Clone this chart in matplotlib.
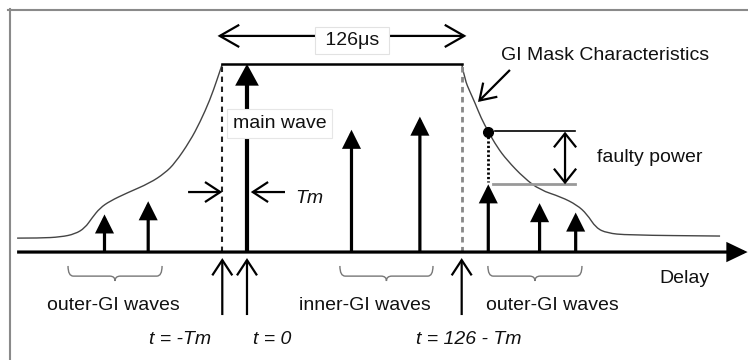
import matplotlib
matplotlib.use("Agg")
import matplotlib.pyplot as plt
from matplotlib.path import Path
from matplotlib.patches import PathPatch
from matplotlib.lines import Line2D

plt.rcParams['font.family'] = ['Liberation Sans', 'DejaVu Sans']

# Guard interval and main-wave offset (µs)
GI = 126
TM = 13

# Received waves: delay (µs) and relative power
wave_delay = [-75, -52, 0, 55, 91, 127, 154, 173]
wave_power = [0.20, 0.27, 1.0, 0.65, 0.72, 0.36, 0.26, 0.21]
MAIN = 2
FAULTY = 5

# GI mask characteristic: rising and falling flanks
mask_left_delay = [-121, -109, -98, -90.5, -85.3, -81.6, -77.4, -72.1, -63.2,
                   -51.1, -43.2, -37.9, -30.0, -24.7, -19.5, -15.8, -13]
mask_left_level = [0.074, 0.074, 0.080, 0.096, 0.128, 0.181, 0.234, 0.271, 0.314,
                   0.367, 0.420, 0.473, 0.590, 0.691, 0.809, 0.915, 1.0]
mask_right_delay = [113, 114.7, 117.4, 120.0, 123.2, 127, 131.6, 136.8, 145.8,
                    154.2, 165.3, 173.7, 178.9, 183.7, 189.5, 200.0, 249]
mask_right_level = [1.0, 0.915, 0.851, 0.793, 0.713, 0.64, 0.559, 0.489, 0.394,
                    0.330, 0.293, 0.250, 0.202, 0.128, 0.101, 0.090, 0.085]
MASK_AT_FAULTY = 0.64

# Wave groups marked with braces below the delay axis
brace_spans = [(-94.2, -44.7), (48.9, 97.9), (126.8, 176.3)]
brace_labels = ["outer-GI waves", "inner-GI waves", "outer-GI waves"]
brace_label_x = [-70.3, 62.1, 160.8]

marker_delay = [-TM, 0, GI - TM]
marker_labels = ["t = -Tm", "t = 0", "t = 126 - Tm"]
marker_label_x = [-35.3, 13.2, 116.8]

TXT = '#111111'
FS = 14

fig = plt.figure(figsize=(7.48, 3.60), dpi=100)
ax = fig.add_axes([0, 0, 1, 1])
ax.set_xlim(-130, 263.7)
ax.set_ylim(-0.574, 1.340)
ax.axis('off')

# frame (top and left edges)
fig.add_artist(Line2D([8 / 748, 1], [1 - 9.5 / 360] * 2, transform=fig.transFigure,
                      color='#8a8a8a', lw=1.5))
fig.add_artist(Line2D([9.5 / 748] * 2, [0, 1 - 9 / 360], transform=fig.transFigure,
                      color='#8a8a8a', lw=1.5))


def arrow(tip, tail, style, ms, lw, color='black', z=3):
    ax.annotate('', xy=tip, xytext=tail, zorder=z,
                arrowprops=dict(arrowstyle=style, mutation_scale=ms, lw=lw,
                                color=color, shrinkA=0, shrinkB=0,
                                joinstyle='miter', capstyle='butt'))


def smooth_curve(xs, ys, **kw):
    """Draw a smooth quadratic path guided by the given points."""
    pts = list(zip(xs, ys))
    verts = [pts[0]]
    codes = [Path.MOVETO]
    for i in range(1, len(pts) - 1):
        mid = ((pts[i][0] + pts[i + 1][0]) / 2, (pts[i][1] + pts[i + 1][1]) / 2)
        verts += [pts[i], mid]
        codes += [Path.CURVE3, Path.CURVE3]
    verts.append(pts[-1])
    codes.append(Path.LINETO)
    ax.add_patch(PathPatch(Path(verts, codes), fc='none', **kw))


# delay axis
arrow((263.5, 0), (-121, 0), '-|>,head_length=1.15,head_width=0.55', 10, 2.3)

# GI mask
smooth_curve(mask_left_delay, mask_left_level, ec='#444444', lw=1.0, zorder=2)
smooth_curve(mask_right_delay, mask_right_level, ec='#444444', lw=1.0, zorder=2)
ax.plot([-TM, GI - TM], [1, 1], color='black', lw=1.8, zorder=2)

# guard interval boundaries
ax.plot([-TM, -TM], [0, 1], color='#222222', lw=1.5, ls=(0, (2.6, 2.2)), zorder=2)
ax.plot([GI - TM, GI - TM], [0, 1], color='#888888', lw=2.0, ls=(0, (2.0, 1.6)), zorder=2)

# received waves
for i, (d, p) in enumerate(zip(wave_delay, wave_power)):
    if i == MAIN:
        arrow((d, p), (d, 0), '-|>,head_length=1.1,head_width=0.6', 10, 3.0)
    else:
        arrow((d, p), (d, 0), '-|>,head_length=1.0,head_width=0.5', 10, 2.3)

# GI length
y126 = 1.149
arrow((GI - TM + 2.5, y126), (-TM - 2.5, y126), '<->,head_length=0.7,head_width=0.4', 20, 1.6)
ax.text(55.3, 1.101, ' 126\u03bcs ', fontsize=FS, color=TXT, ha='center', va='baseline',
        zorder=5, bbox=dict(boxstyle='square,pad=0.25', fc='white', ec='#e2e2e2', lw=0.8))

# main wave label
ax.text(-7.4, 0.660, 'main wave', fontsize=FS, color=TXT, ha='left', va='baseline',
        zorder=5, bbox=dict(boxstyle='square,pad=0.3', fc='white', ec='#e6e6e6', lw=0.8))

# Tm offset
yt = 0.319
arrow((-TM, yt), (-31, yt), '->,head_length=0.55,head_width=0.36', 20, 1.6)
arrow((2, yt), (20, yt), '->,head_length=0.55,head_width=0.36', 20, 1.6)
ax.text(32.6, 0.261, 'Tm', fontsize=FS, style='italic', color=TXT, ha='center', va='baseline')

# time markers below the axis
for d, lab, lx in zip(marker_delay, marker_labels, marker_label_x):
    arrow((d, -0.032), (d, -0.335), '->,head_length=0.55,head_width=0.36', 20, 1.6)
    ax.text(lx, -0.489, lab, fontsize=FS, style='italic', color=TXT, ha='center',
            va='baseline')


# braces
def brace(x0, x1):
    yt_, ym, yb = -0.074, -0.128, -0.154
    xc = (x0 + x1) / 2
    r = 2.8
    verts = [(x0, yt_), (x0, ym), (x0 + r, ym),
             (xc - r, ym), (xc, ym), (xc, yb),
             (xc, ym), (xc + r, ym),
             (x1 - r, ym), (x1, ym), (x1, yt_)]
    codes = [Path.MOVETO, Path.CURVE3, Path.CURVE3,
             Path.LINETO, Path.CURVE3, Path.CURVE3,
             Path.CURVE3, Path.CURVE3,
             Path.LINETO, Path.CURVE3, Path.CURVE3]
    ax.add_patch(PathPatch(Path(verts, codes), fc='none', ec='#777777', lw=1.0))


for (x0, x1), lab, lx in zip(brace_spans, brace_labels, brace_label_x):
    brace(x0, x1)
    ax.text(lx, -0.309, lab, fontsize=FS, color=TXT, ha='center', va='baseline')

ax.text(230.5, -0.165, 'Delay', fontsize=FS, color=TXT, ha='center', va='baseline')

# mask annotation
ax.text(188.7, 1.021, 'GI Mask Characteristics', fontsize=FS, color=TXT,
        ha='center', va='baseline')
arrow((121.6, 0.798), (138.4, 0.968), '->,head_length=0.55,head_width=0.36', 20, 1.6)

# faulty power: mask level vs. power of the outer wave
fd = wave_delay[FAULTY]
fp = wave_power[FAULTY]
ax.plot([fd], [MASK_AT_FAULTY], 'o', color='black', ms=7, zorder=4)
ax.plot([fd, fd], [MASK_AT_FAULTY, fp + 0.01], color='black', lw=2.0, ls=(0, (0.8, 0.8)),
        zorder=3)
ax.plot([130.5, 172.6], [MASK_AT_FAULTY + 0.005] * 2, color='black', lw=1.2)
ax.plot([129.5, 172.6], [fp] * 2, color='#999999', lw=2.0)
arrow((167.4, MASK_AT_FAULTY), (167.4, fp), '<->,head_length=0.5,head_width=0.4', 20, 1.6)
ax.text(211.8, 0.479, 'faulty power', fontsize=FS, color=TXT, ha='center', va='baseline')

fig.savefig('out.png', dpi=100, facecolor='white')
